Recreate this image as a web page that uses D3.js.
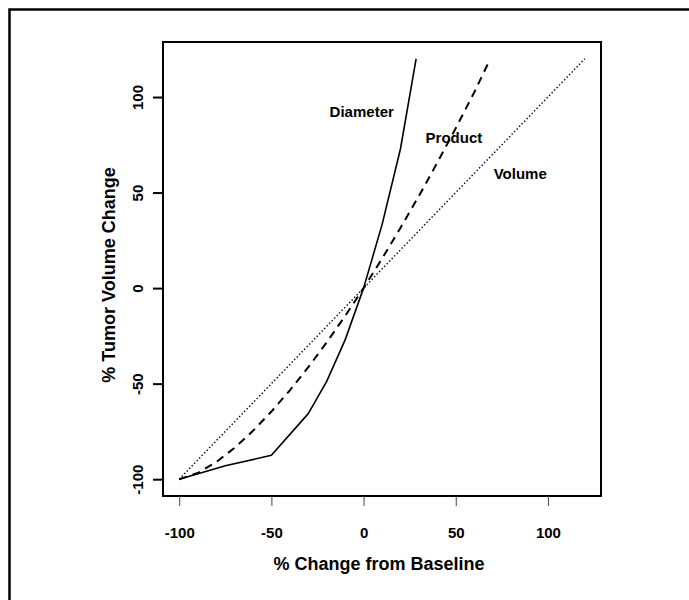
<!DOCTYPE html>
<html>
<head>
<meta charset="utf-8">
<script src="https://cdn.jsdelivr.net/npm/d3@7"></script>
<style>
  body { margin: 0; background: #fff; }
  svg { display: block; font-family: "Liberation Sans", Arial, sans-serif; font-weight: bold; }
</style>
</head>
<body>
<div id="chart"></div>
<script>
// Data
const diameterX = [-100, -75, -50, -30, -20, -10, 0, 10, 20, 28.5];
const diameterY = [-100, -93, -87.5, -65.7, -48.8, -27.1, 0, 33.1, 72.8, 120];
const productX = [-100, -90, -80, -70, -60, -50, -40, -30, -20, -10, 0, 10, 20, 30, 40, 50, 60, 68.5];
const productY = [-100, -96.8, -91.1, -83.6, -74.7, -64.6, -53.5, -41.4, -28.4, -14.6, 0, 15.4, 31.5, 48.2, 65.7, 83.7, 102.4, 119.5];
const volumeX = [-100, 120];
const volumeY = [-100, 120];
const tickValues = [-100, -50, 0, 50, 100];
const labels = [
  { text: "Diameter", x: -1, y: 92.5 },
  { text: "Product", x: 49, y: 78.5 },
  { text: "Volume", x: 85, y: 60 },
];

const width = 689, height = 600;
const margin = { top: 42, right: 88, bottom: 104, left: 163 };

const svg = d3.select("#chart").append("svg")
  .attr("width", width)
  .attr("height", height);

// Outer frame (only top and left edges show)
svg.append("path")
  .attr("d", `M9.5,${height} L9.5,9.5 L${width},9.5`)
  .attr("fill", "none")
  .attr("stroke", "#000")
  .attr("stroke-width", 2.5);

// R-style 4% padding
const xScale = d3.scaleLinear()
  .domain([-108.8, 128.8])
  .range([margin.left, width - margin.right]);
const yScale = d3.scaleLinear()
  .domain([-108.8, 128.8])
  .range([height - margin.bottom, margin.top]);

const line = d3.line()
  .x((d) => xScale(d[0]))
  .y((d) => yScale(d[1]));

const zip = (xs, ys) => xs.map((x, i) => [x, ys[i]]);
const fmt = (d) => String(d);

// Series
svg.append("path")
  .attr("d", line(zip(volumeX, volumeY)))
  .attr("fill", "none")
  .attr("stroke", "#000")
  .attr("stroke-width", 1.4)
  .attr("stroke-dasharray", "1.4,2.2");

svg.append("path")
  .attr("d", line(zip(productX, productY)))
  .attr("fill", "none")
  .attr("stroke", "#000")
  .attr("stroke-width", 2)
  .attr("stroke-dasharray", "8,6");

svg.append("path")
  .attr("d", line(zip(diameterX, diameterY)))
  .attr("fill", "none")
  .attr("stroke", "#000")
  .attr("stroke-width", 1.6)
  .attr("stroke-linejoin", "round");

// Series labels
svg.append("g")
  .selectAll("text")
  .data(labels)
  .join("text")
  .attr("x", (d) => xScale(d.x))
  .attr("y", (d) => yScale(d.y))
  .attr("text-anchor", "middle")
  .attr("dy", "0.35em")
  .attr("font-size", 15)
  .text((d) => d.text);

// Plot box
svg.append("rect")
  .attr("x", margin.left)
  .attr("y", margin.top)
  .attr("width", width - margin.right - margin.left)
  .attr("height", height - margin.bottom - margin.top)
  .attr("fill", "none")
  .attr("stroke", "#000")
  .attr("stroke-width", 2);

// x axis
const xAxisG = svg.append("g")
  .attr("transform", `translate(0,${height - margin.bottom})`)
  .call(d3.axisBottom(xScale).tickValues(tickValues).tickFormat(fmt).tickSize(10).tickPadding(21));
xAxisG.select(".domain").remove();
xAxisG.selectAll("line").attr("stroke", "#444").attr("stroke-width", 1);
xAxisG.selectAll("text")
  .attr("font-size", 15)
  .attr("font-family", "Liberation Sans, Arial, sans-serif")
  .attr("font-weight", "bold");

// y axis
const yAxisG = svg.append("g")
  .attr("transform", `translate(${margin.left},0)`)
  .call(d3.axisLeft(yScale).tickValues(tickValues).tickFormat(fmt).tickSize(10).tickPadding(0));
yAxisG.select(".domain").remove();
yAxisG.selectAll("line").attr("stroke", "#000").attr("stroke-width", 2);
yAxisG.selectAll("text")
  .attr("x", null)
  .attr("dy", null)
  .attr("text-anchor", "middle")
  .attr("transform", "translate(-20,0) rotate(-90)")
  .attr("font-size", 15)
  .attr("font-family", "Liberation Sans, Arial, sans-serif")
  .attr("font-weight", "bold");

// Axis titles
svg.append("text")
  .attr("x", 379)
  .attr("y", 570)
  .attr("text-anchor", "middle")
  .attr("font-size", 18)
  .text("% Change from Baseline");

svg.append("text")
  .attr("transform", "translate(115,275) rotate(-90)")
  .attr("text-anchor", "middle")
  .attr("font-size", 18)
  .text("% Tumor Volume Change");
</script>
</body>
</html>
